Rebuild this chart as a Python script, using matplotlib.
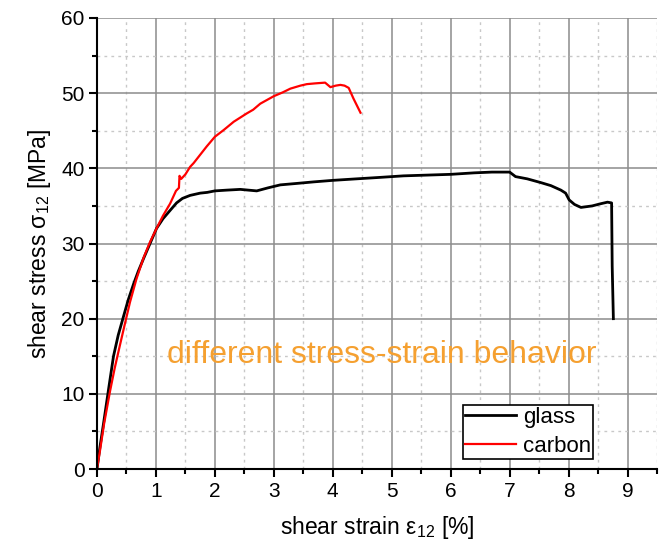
import matplotlib
matplotlib.use('Agg')
from matplotlib import pyplot as plt
from matplotlib.ticker import MultipleLocator

plt.rcParams['font.family'] = ['Liberation Sans', 'DejaVu Sans']
plt.rcParams['mathtext.fontset'] = 'custom'
plt.rcParams['mathtext.rm'] = 'Liberation Sans'

# glass fibre specimen (strain %, stress MPa)
glass_x = [0, 0.05, 0.11, 0.2, 0.28, 0.36, 0.45, 0.53, 0.62, 0.7, 0.79, 0.9, 1.01,
           1.12, 1.24, 1.35, 1.45, 1.58, 1.75, 1.87, 2.0, 2.2, 2.43, 2.71, 2.9, 3.11,
           3.4, 3.68, 4.0, 4.4, 4.81, 5.2, 5.6, 6.0, 6.4, 6.7, 7.0, 7.1, 7.3,
           7.53, 7.7, 7.87, 7.95, 8.01, 8.1, 8.21, 8.4, 8.55, 8.66, 8.73, 8.74,
           8.76]
glass_y = [0, 2.9, 6.0, 10.8, 15.0, 17.8, 20.3, 22.5, 24.6, 26.3, 28.0, 30.0, 32.0,
           33.3, 34.4, 35.4, 36.0, 36.4, 36.7, 36.8, 37.0, 37.1, 37.2, 37.0, 37.4,
           37.8, 38.0, 38.2, 38.4, 38.6, 38.8, 39.0, 39.1, 39.2, 39.4, 39.5, 39.5,
           38.9, 38.6, 38.1, 37.7, 37.1, 36.7, 35.8, 35.2, 34.8, 35.0, 35.3, 35.5,
           35.4, 27.0, 20.0]

# carbon fibre specimen
carbon_x = [0, 0.05, 0.12, 0.22, 0.3, 0.39, 0.47, 0.56, 0.67, 0.79, 0.9, 1.01,
            1.12, 1.24, 1.34, 1.39, 1.4, 1.43, 1.5, 1.58, 1.64, 1.75, 1.86, 2.0,
            2.15, 2.32, 2.54, 2.65, 2.77, 3.0, 3.15, 3.28, 3.45, 3.56, 3.7, 3.87,
            3.96, 4.05, 4.13, 4.2, 4.27, 4.35, 4.47]
carbon_y = [0, 2.4, 6.0, 10.3, 13.4, 16.5, 19.2, 22.2, 25.3, 28.1, 30.2, 32.0,
            33.7, 35.3, 37.0, 37.4, 39.0, 38.6, 39.2, 40.2, 40.7, 41.8, 42.9, 44.2,
            45.1, 46.2, 47.3, 47.8, 48.6, 49.6, 50.1, 50.6, 51.0, 51.2, 51.3, 51.4,
            50.8, 51.0, 51.1, 51.0, 50.7, 49.3, 47.4]

fig = plt.figure(figsize=(6.67, 5.45), dpi=100)
ax = fig.add_axes([0.1454, 0.1394, 0.8396, 0.8276])

ax.plot(glass_x, glass_y, c='black', lw=2, label='glass')
ax.plot(carbon_x, carbon_y, c='#ff0000', lw=1.6, label='carbon')

ax.set_xlim(0, 9.5)
ax.set_ylim(0, 60)
ax.xaxis.set_major_locator(MultipleLocator(1))
ax.xaxis.set_minor_locator(MultipleLocator(0.5))
ax.yaxis.set_major_locator(MultipleLocator(10))
ax.yaxis.set_minor_locator(MultipleLocator(5))

# grid: solid at major ticks, dotted at minor ticks
ax.grid(which='major', color='#8c8c8c', lw=1.1, ls='-')
ax.grid(which='minor', color='#c8c8c8', lw=1.0, ls=(0, (2, 3)))
ax.set_axisbelow(True)

for side in ['top', 'right']:
    ax.spines[side].set_visible(False)
for side in ['left', 'bottom']:
    ax.spines[side].set_linewidth(1.5)
ax.tick_params(which='major', direction='out', length=6, width=1.5, labelsize=15,
               pad=3)
ax.tick_params(which='minor', direction='out', length=3.5, width=1.5)

ax.set_xlabel('shear strain ε$_{12}$ [%]', fontsize=16.5, labelpad=10)
ax.set_ylabel('shear stress σ$_{12}$ [MPa]', fontsize=16.5, labelpad=6)

ax.text(4.83, 15.2, 'different stress-strain behavior', color='#f5a030',
        fontsize=23, ha='center', va='center')

leg = ax.legend(loc='lower right', bbox_to_anchor=(0.886, 0.022), fontsize=16,
                frameon=True, fancybox=False, framealpha=1, edgecolor='black',
                handlelength=2.3, borderpad=0.1, labelspacing=0.35,
                handletextpad=0.3, borderaxespad=0)
leg.get_frame().set_linewidth(1.2)

fig.savefig('out.png', dpi=100)
